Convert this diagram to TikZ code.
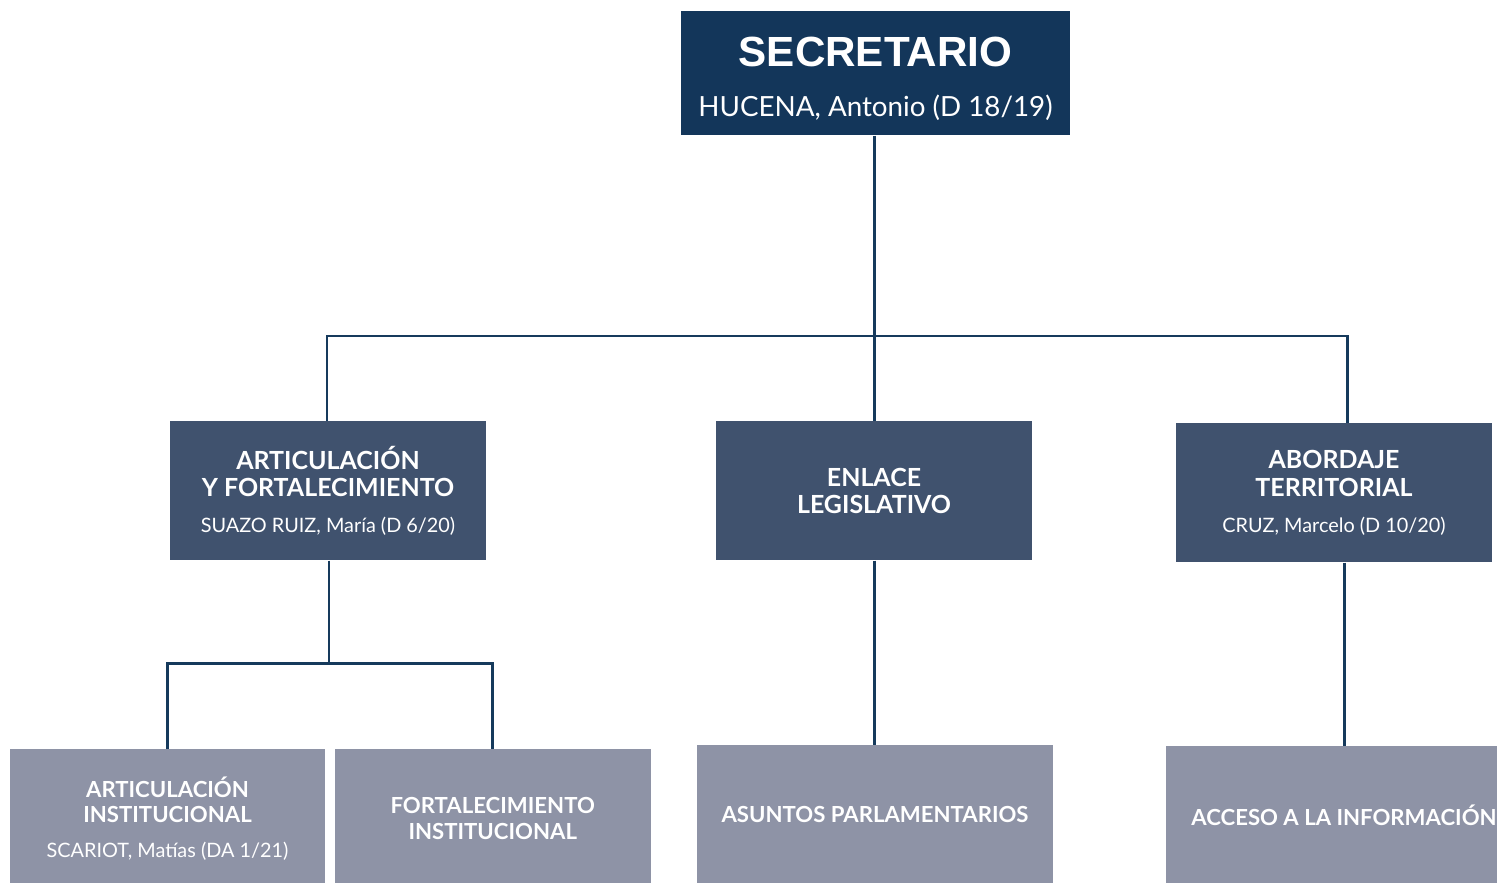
\documentclass[tikz,border=0pt]{standalone}
\usepackage{fontspec}
\setmainfont{Lato}
\newfontfamily\arialfont{Liberation Sans}
\usepackage{tikz}
\usetikzlibrary{positioning,calc}
\definecolor{navy}{HTML}{13365A}
\definecolor{slate}{HTML}{40526E}
\definecolor{greyblue}{HTML}{8E93A6}
\definecolor{wire}{HTML}{163A5C}
\tikzset{
    box/.style={rectangle,text=white,align=center,inner sep=0pt,anchor=north},
    topbox/.style={box,fill=navy,minimum width=7.78cm,minimum height=2.48cm},
    areabox/.style={box,fill=slate,minimum width=6.32cm,minimum height=2.78cm,
        font=\fontsize{14.2}{15.5}\selectfont\bfseries},
    unitbox/.style={box,fill=greyblue,minimum height=2.76cm,
        font=\fontsize{12.6}{14.5}\selectfont\bfseries},
    wire/.style={draw=wire,line width=1.7pt}
}
\newcommand{\jefe}[1]{\\[5pt]{\fontsize{11.3}{13}\selectfont\mdseries #1}}

\begin{document}
\begin{tikzpicture}
        \clip (0,0) rectangle (29.94,-17.64);
        \fill[white] (0,0) rectangle (29.94,-17.64);
        % nivel 1
        \node[topbox] (sec) at (17.51,-0.22)
            {\rule{0pt}{23pt}{\arialfont\fontsize{24}{26}\selectfont\bfseries SECRETARIO}\\[14.5pt]
             {\fontsize{15.8}{17}\selectfont HUCENA, Antonio (D 18/19)}};
        % nivel 2
        \node[areabox] (art) at (6.56,-8.42)
            {ARTICULACIÓN\\Y FORTALECIMIENTO\jefe{SUAZO RUIZ, María (D 6/20)}};
        \node[areabox] (enl) at (17.48,-8.42) {ENLACE\\LEGISLATIVO};
        \node[areabox] (abo) at (26.68,-8.46)
            {ABORDAJE\\TERRITORIAL\jefe{CRUZ, Marcelo (D 10/20)}};
        % nivel 3
        \node[unitbox,minimum width=6.30cm] (artinst) at (3.35,-14.98)
            {ARTICULACIÓN\\INSTITUCIONAL\jefe{SCARIOT, Matías (DA 1/21)}};
        \node[unitbox,minimum width=6.32cm,anchor=west] (fortinst) [right=0.18cm of artinst]
            {FORTALECIMIENTO\\INSTITUCIONAL};
        \node[unitbox,minimum width=7.12cm] (asu) at (17.50,-14.90) {ASUNTOS PARLAMENTARIOS};
        \node[unitbox,minimum width=7.12cm] (acc) at (26.88,-14.92) {ACCESO A LA INFORMACIÓN};
        % conectores
        \coordinate (barL) at (6.54,-6.72);
        \coordinate (barR) at (26.94,-6.72);
        \coordinate (jointA) at (6.58,-13.26);
        \path[wire]
            (enl.north |- sec.south) -- (enl.north)
            (art.north -| barL) -- (barL) -- (barR) -- (barR |- abo.north)
            (art.south -| jointA) -- (jointA)
            (artinst.north) |- (jointA) -| (fortinst.north)
            (enl.south) -- (enl.south |- asu.north)
            (acc.north |- abo.south) -- (acc.north);
\end{tikzpicture}
\end{document}
